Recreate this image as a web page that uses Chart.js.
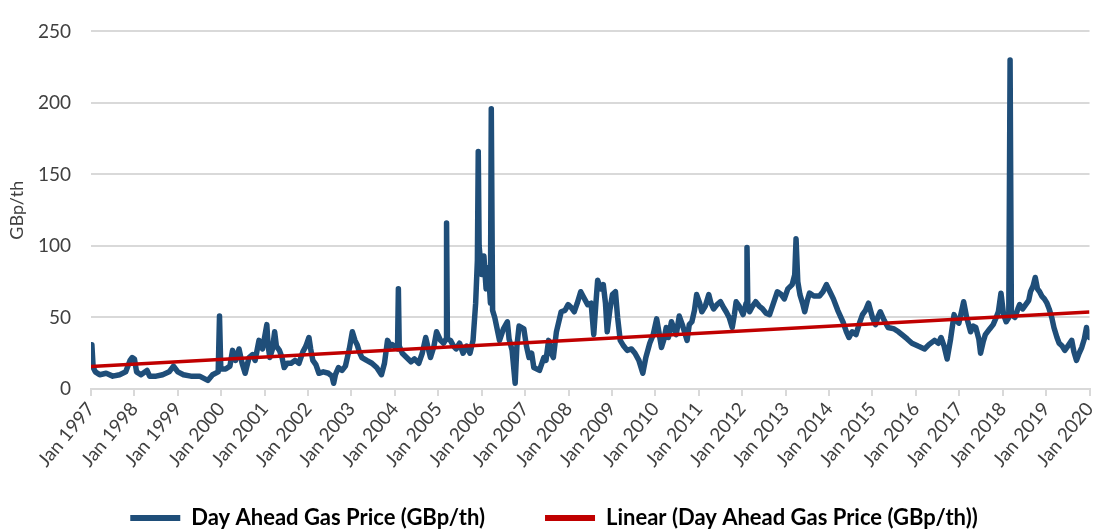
<!DOCTYPE html>
<html>
<head>
<meta charset="utf-8">
<script src="https://cdn.jsdelivr.net/npm/chart.js@4"></script>
<style>
  body { margin: 0; background: #fff; }
  #wrap { width: 1109px; height: 529px; }
</style>
</head>
<body>
<div id="wrap"><canvas id="myChart"></canvas></div>
<script>
// decimal years and day ahead price (GBp/th)
const dates = [
  1997.00, 1997.02, 1997.05, 1997.10, 1997.20, 1997.35, 1997.50, 1997.66, 1997.80, 1997.90,
  1997.95, 1998.00, 1998.05, 1998.15, 1998.29, 1998.35, 1998.50, 1998.65, 1998.80, 1998.90,
  1999.00, 1999.13, 1999.30, 1999.50, 1999.69, 1999.80, 1999.93, 1999.96, 1999.99, 2000.10,
  2000.20, 2000.26, 2000.33, 2000.41, 2000.48, 2000.55, 2000.64, 2000.72, 2000.78, 2000.87,
  2000.95, 2001.05, 2001.08, 2001.12, 2001.18, 2001.23, 2001.27, 2001.34, 2001.40, 2001.45,
  2001.52, 2001.61, 2001.70, 2001.79, 2001.88, 2001.95, 2002.02, 2002.06, 2002.11, 2002.18,
  2002.25, 2002.35, 2002.47, 2002.55, 2002.59, 2002.63, 2002.70, 2002.78, 2002.86, 2002.95,
  2003.02, 2003.08, 2003.13, 2003.18, 2003.24, 2003.35, 2003.47, 2003.58, 2003.69, 2003.76,
  2003.83, 2003.90, 2003.94, 2004.06, 2004.08, 2004.10, 2004.17, 2004.27, 2004.37, 2004.45,
  2004.55, 2004.63, 2004.71, 2004.77, 2004.82, 2004.90, 2004.96, 2005.05, 2005.12, 2005.18,
  2005.19, 2005.21, 2005.28, 2005.35, 2005.41, 2005.49, 2005.57, 2005.65, 2005.73, 2005.80,
  2005.86, 2005.90, 2005.92, 2005.94, 2006.00, 2006.05, 2006.10, 2006.15, 2006.20, 2006.22,
  2006.25, 2006.30, 2006.41, 2006.50, 2006.59, 2006.63, 2006.70, 2006.77, 2006.81, 2006.86,
  2006.97, 2007.03, 2007.09, 2007.15, 2007.20, 2007.33, 2007.43, 2007.48, 2007.54, 2007.60,
  2007.65, 2007.72, 2007.83, 2007.92, 2007.99, 2008.06, 2008.13, 2008.20, 2008.28, 2008.35,
  2008.44, 2008.52, 2008.58, 2008.63, 2008.67, 2008.74, 2008.80, 2008.85, 2008.89, 2008.95,
  2009.01, 2009.08, 2009.13, 2009.19, 2009.27, 2009.35, 2009.45, 2009.53, 2009.62, 2009.71,
  2009.78, 2009.87, 2009.95, 2010.03, 2010.08, 2010.14, 2010.20, 2010.25, 2010.30, 2010.37,
  2010.43, 2010.48, 2010.55, 2010.62, 2010.73, 2010.78, 2010.84, 2010.90, 2010.95, 2011.02,
  2011.07, 2011.15, 2011.23, 2011.28, 2011.34, 2011.42, 2011.50, 2011.57, 2011.63, 2011.70,
  2011.77, 2011.82, 2011.86, 2011.93, 2012.02, 2012.09, 2012.11, 2012.13, 2012.17, 2012.24,
  2012.31, 2012.39, 2012.47, 2012.55, 2012.63, 2012.72, 2012.81, 2012.90, 2012.97, 2013.05,
  2013.15, 2013.21, 2013.24, 2013.28, 2013.33, 2013.39, 2013.44, 2013.50, 2013.55, 2013.65,
  2013.78, 2013.86, 2013.94, 2014.02, 2014.10, 2014.20, 2014.32, 2014.40, 2014.46, 2014.53,
  2014.62, 2014.70, 2014.77, 2014.84, 2014.91, 2015.00, 2015.07, 2015.12, 2015.18, 2015.27,
  2015.36, 2015.50, 2015.60, 2015.68, 2015.80, 2015.91, 2016.05, 2016.20, 2016.30, 2016.43,
  2016.52, 2016.58, 2016.65, 2016.72, 2016.80, 2016.88, 2016.93, 2016.99, 2017.05, 2017.10,
  2017.17, 2017.26, 2017.32, 2017.38, 2017.45, 2017.49, 2017.55, 2017.60, 2017.70, 2017.78,
  2017.85, 2017.90, 2017.96, 2018.02, 2018.08, 2018.14, 2018.17, 2018.20, 2018.28, 2018.35,
  2018.39, 2018.46, 2018.53, 2018.60, 2018.64, 2018.70, 2018.75, 2018.80, 2018.85, 2018.90,
  2018.96, 2019.02, 2019.07, 2019.13, 2019.18, 2019.25, 2019.30, 2019.37, 2019.43, 2019.50,
  2019.59, 2019.64, 2019.70, 2019.76, 2019.82, 2019.88, 2019.93, 2019.97, 2020.00
];
const prices = [
  30, 31, 15, 12, 10, 11, 9, 10, 12, 20,
  22, 21, 12, 10, 13, 9, 9, 10, 12, 16,
  12, 10, 9, 9, 6, 10, 12, 51, 14, 14,
  16, 27, 20, 28, 18, 11, 22, 24, 20, 34,
  28, 45, 30, 22, 28, 40, 30, 27, 22, 15,
  18, 18, 20, 18, 26, 30, 36, 28, 20, 17,
  11, 12, 11, 9, 4, 10, 15, 13, 16, 28,
  40, 34, 31, 26, 22, 20, 18, 15, 10, 18,
  34, 30, 31, 28, 70, 30, 25, 22, 19, 21,
  18, 25, 36, 28, 22, 30, 40, 34, 32, 35,
  116, 35, 34, 30, 28, 32, 25, 30, 25, 34,
  60, 90, 166, 100, 80, 93, 70, 85, 60, 196,
  55, 50, 34, 42, 47, 35, 27, 4, 30, 44,
  42, 30, 22, 25, 15, 13, 22, 20, 34, 25,
  22, 40, 54, 55, 59, 57, 54, 60, 68, 64,
  59, 60, 38, 60, 76, 70, 73, 60, 40, 55,
  66, 68, 50, 34, 30, 27, 28, 25, 20, 11,
  22, 32, 38, 49, 40, 29, 35, 43, 36, 47,
  42, 38, 51, 45, 34, 45, 47, 55, 66, 60,
  54, 58, 66, 60, 56, 59, 61, 57, 54, 50,
  43, 52, 61, 58, 52, 60, 99, 58, 54, 58,
  61, 58, 56, 53, 52, 60, 68, 66, 63, 70,
  73, 80, 105, 75, 66, 60, 54, 62, 67, 65,
  65, 68, 73, 68, 63, 55, 47, 40, 36, 40,
  38, 46, 52, 55, 60, 50, 45, 50, 54, 48,
  43, 42, 40, 38, 35, 32, 30, 28, 31, 34,
  32, 36, 30, 21, 35, 52, 48, 46, 54, 61,
  50, 40, 44, 43, 35, 25, 33, 38, 42, 45,
  50, 54, 67, 52, 47, 50, 230, 52, 50, 56,
  59, 56, 59, 62, 68, 72, 78, 70, 68, 65,
  63, 60, 56, 50, 43, 36, 32, 30, 27, 30,
  34, 26, 20, 25, 29, 35, 43, 38, 36
];

// linear trend line end points
const trendDates = [1997, 2020];
const trendValues = [15.8, 53.8];

const seriesNames = ['Day Ahead Gas Price (GBp/th)', 'Linear (Day Ahead Gas Price (GBp/th))'];
const seriesColors = ['#1F4E79', '#C00000'];

// legend padding is also the gap between items, so stretch the box up after layout
const legendLift = {
    id: 'legendLift',
    afterLayout: function(chart) {
        chart.legend.top -= 28;
        chart.legend.height = chart.legend.bottom - chart.legend.top;
    }
};

const ctx = document.getElementById('myChart').getContext('2d');
const myChart = new Chart(ctx, {
    type: 'line',
    data: {
        datasets: [{
            label: seriesNames[0],
            data: dates.map((d, i) => ({ x: d, y: prices[i] })),
            borderColor: seriesColors[0],
            backgroundColor: seriesColors[0],
            borderWidth: 5.5,
            borderJoinStyle: 'round',
            borderCapStyle: 'round',
            pointRadius: 0,
            tension: 0,
            order: 1
        }, {
            label: seriesNames[1],
            data: trendDates.map((d, i) => ({ x: d, y: trendValues[i] })),
            borderColor: seriesColors[1],
            backgroundColor: seriesColors[1],
            borderWidth: 3.5,
            pointRadius: 0,
            order: 0
        }]
    },
    plugins: [legendLift],
    options: {
        responsive: true,
        maintainAspectRatio: false,
        animation: false,
        layout: { padding: { top: 25, right: 1, left: 0, bottom: 0 } },
        plugins: {
            tooltip: { enabled: false },
            legend: {
                position: 'bottom',
                maxHeight: 54,
                labels: {
                    padding: 60,
                    boxWidth: 50,
                    boxHeight: 6,
                    color: '#111',
                    font: { family: 'Lato', size: 22, weight: 'bold' },
                    generateLabels: function() {
                        return seriesNames.map((name, i) => ({
                            text: name,
                            fillStyle: seriesColors[i],
                            strokeStyle: seriesColors[i],
                            lineWidth: 0,
                            datasetIndex: i,
                            hidden: false
                        }));
                    }
                }
            }
        },
        scales: {
            x: {
                type: 'linear',
                min: 1997,
                max: 2020,
                afterFit: function(scale) { scale.height = 86; },
                border: { display: true, color: '#d9d9d9', width: 2 },
                grid: { drawOnChartArea: false, drawTicks: true, tickLength: 7, color: '#d9d9d9', lineWidth: 2 },
                ticks: {
                    stepSize: 1,
                    autoSkip: false,
                    minRotation: 50,
                    maxRotation: 50,
                    padding: 2,
                    color: '#404040',
                    font: { family: 'Lato', size: 19 },
                    callback: function(value) {
                        return 'Jan ' + value; // year label
                    }
                }
            },
            y: {
                min: 0,
                max: 250,
                afterFit: function(scale) { scale.width = 91; },
                border: { display: false },
                grid: { color: '#d9d9d9', lineWidth: 2, drawTicks: false },
                ticks: {
                    stepSize: 50,
                    padding: 20,
                    color: '#404040',
                    font: { family: 'Lato', size: 19 }
                },
                title: {
                    display: true,
                    text: 'GBp/th',
                    color: '#404040',
                    padding: { top: 6, bottom: 0 },
                    font: { family: 'Lato', size: 18 }
                }
            }
        }
    }
});
</script>
</body>
</html>
